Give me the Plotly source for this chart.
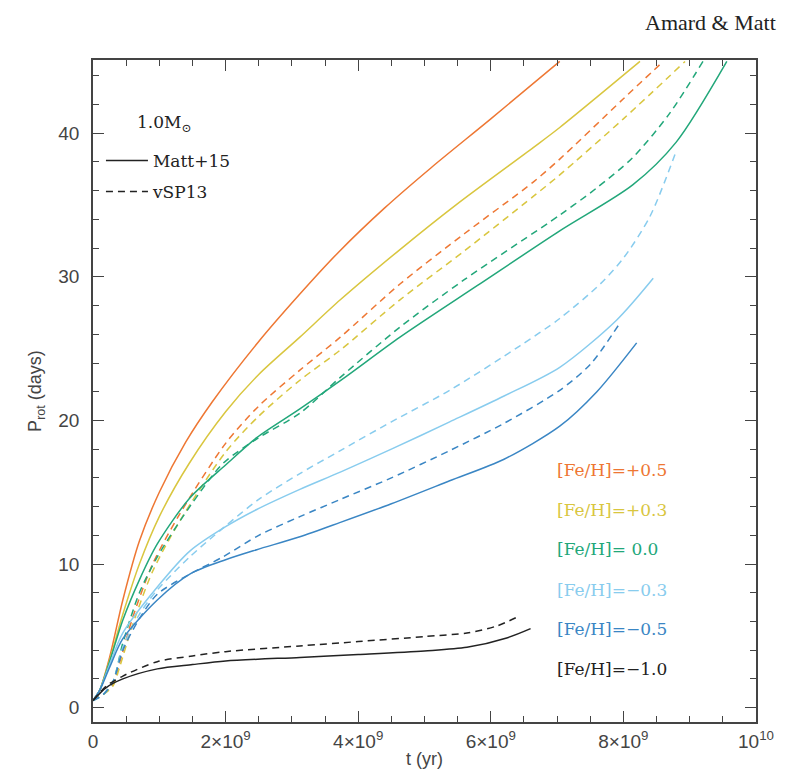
import plotly.graph_objects as go

# ---------------- data (t in units of 1e9 yr, P_rot in days) ----------------
feh_labels = ["[Fe/H]=+0.5", "[Fe/H]=+0.3", "[Fe/H]= 0.0",
              "[Fe/H]=−0.3", "[Fe/H]=−0.5", "[Fe/H]=−1.0"]
colors = ["#EE7733", "#D9C63F", "#22A77A", "#88CCEE", "#3A86C4", "#222222"]
model_names = ["Matt+15", "vSP13"]
mass_label = "1.0M<sub>⊙</sub>"

# Matt+15 (solid)
t_matt_p05 = [0, 0.1, 0.25, 0.45, 0.7, 1.0, 1.4, 1.8, 2.5, 3.1, 3.7, 4.4, 5.1, 6.0, 7.04]
p_matt_p05 = [0.5, 1.2, 3.5, 7.5, 11.6, 15.0, 18.5, 21.3, 25.5, 28.7, 31.7, 34.8, 37.6, 41.0, 45.0]
t_matt_p03 = [0, 0.1, 0.25, 0.45, 0.7, 1.0, 1.45, 2.0, 2.5, 3.12, 3.73, 4.63, 5.5, 6.64, 7.04, 8.25]
p_matt_p03 = [0.5, 1.2, 3.3, 6.5, 10.0, 13.3, 17.0, 20.6, 23.2, 25.8, 28.4, 31.9, 35.1, 39.0, 40.4, 45.0]
t_matt_000 = [0, 0.1, 0.25, 0.45, 0.7, 0.97, 1.46, 2.0, 2.47, 3.12, 3.8, 4.63, 5.8, 7.04, 8.14, 8.8, 9.56]
p_matt_000 = [0.5, 1.2, 3.2, 6.1, 8.9, 11.4, 14.6, 16.9, 18.8, 20.8, 23.0, 25.8, 29.4, 33.2, 36.4, 39.4, 45.0]
t_matt_m03 = [0, 0.1, 0.25, 0.45, 0.97, 1.46, 2.0, 2.47, 3.12, 3.73, 4.5, 5.38, 6.2, 7.04, 7.9, 8.45]
p_matt_m03 = [0.5, 1.2, 3.0, 5.2, 8.4, 10.9, 12.6, 13.8, 15.2, 16.4, 18.0, 19.9, 21.7, 23.7, 27.0, 29.9]
t_matt_m05 = [0, 0.1, 0.25, 0.45, 0.97, 1.46, 2.0, 2.47, 3.12, 3.73, 4.5, 5.38, 6.2, 7.04, 7.6, 8.2]
p_matt_m05 = [0.5, 1.2, 2.8, 4.8, 7.5, 9.3, 10.3, 11.0, 11.9, 12.9, 14.2, 15.8, 17.3, 19.6, 22.0, 25.4]
t_matt_m10 = [0, 0.2, 0.45, 0.97, 1.5, 2.0, 3.12, 4.0, 5.0, 5.64, 6.24, 6.6]
p_matt_m10 = [0.5, 1.4, 2.0, 2.7, 3.0, 3.25, 3.5, 3.7, 3.95, 4.2, 4.85, 5.5]

# vSP13 (dashed)
t_vsp_p05 = [0, 0.15, 0.3, 0.4, 0.6, 0.9, 1.31, 2.0, 2.5, 3.12, 3.73, 4.63, 5.6, 6.64, 7.04, 8.0, 8.6]
p_vsp_p05 = [0.5, 0.9, 1.6, 3.1, 6.3, 10.0, 13.5, 18.4, 21.0, 23.5, 25.8, 29.5, 33.0, 36.6, 38.2, 42.4, 45.0]
t_vsp_p03 = [0, 0.15, 0.3, 0.4, 0.6, 0.9, 1.31, 2.0, 2.5, 3.12, 3.73, 4.63, 5.6, 6.64, 7.04, 8.0, 8.93]
p_vsp_p03 = [0.5, 0.9, 1.5, 2.8, 5.8, 9.5, 13.0, 17.8, 20.3, 22.8, 24.9, 28.4, 31.8, 35.6, 37.1, 41.0, 45.0]
t_vsp_000 = [0, 0.15, 0.3, 0.45, 0.7, 0.97, 1.46, 1.96, 2.5, 3.12, 3.73, 4.63, 5.6, 7.04, 7.6, 8.14, 8.7, 9.2]
p_vsp_000 = [0.5, 0.9, 1.8, 4.5, 8.0, 10.5, 14.0, 17.0, 18.8, 20.5, 23.0, 26.5, 29.8, 34.3, 36.2, 38.3, 41.4, 45.0]
t_vsp_m03 = [0, 0.15, 0.3, 0.45, 0.7, 0.97, 1.46, 1.96, 2.5, 3.12, 3.73, 4.5, 5.38, 6.44, 7.04, 7.65, 8.0, 8.4, 8.8]
p_vsp_m03 = [0.5, 0.9, 1.8, 4.2, 6.5, 8.2, 10.5, 12.5, 14.5, 16.3, 17.9, 19.9, 22.1, 25.2, 27.1, 29.5, 31.3, 34.2, 38.8]
t_vsp_m05 = [0, 0.15, 0.3, 0.45, 0.7, 0.97, 1.46, 1.96, 2.5, 3.12, 3.73, 4.5, 5.38, 6.2, 7.04, 7.5, 7.95]
p_vsp_m05 = [0.5, 0.9, 1.8, 4.0, 6.2, 7.9, 9.3, 10.5, 12.0, 13.3, 14.5, 16.0, 17.9, 19.8, 22.1, 23.9, 26.8]
t_vsp_m10 = [0, 0.2, 0.45, 0.97, 1.5, 2.0, 3.12, 4.0, 5.0, 5.64, 6.1, 6.44]
p_vsp_m10 = [0.5, 1.5, 2.2, 3.2, 3.6, 3.9, 4.3, 4.6, 4.95, 5.2, 5.7, 6.4]

matt_t = [t_matt_p05, t_matt_p03, t_matt_000, t_matt_m03, t_matt_m05, t_matt_m10]
matt_p = [p_matt_p05, p_matt_p03, p_matt_000, p_matt_m03, p_matt_m05, p_matt_m10]
vsp_t = [t_vsp_p05, t_vsp_p03, t_vsp_000, t_vsp_m03, t_vsp_m05, t_vsp_m10]
vsp_p = [p_vsp_p05, p_vsp_p03, p_vsp_000, p_vsp_m03, p_vsp_m05, p_vsp_m10]

x_tickvals = [0, 2, 4, 6, 8, 10]
x_ticktext = ["0", "2×10<sup>9</sup>", "4×10<sup>9</sup>", "6×10<sup>9</sup>",
              "8×10<sup>9</sup>", "10<sup>10</sup>"]
y_tickvals = [0, 10, 20, 30, 40]

# ---------------- figure ----------------
fig = go.Figure()
AX = "#444444"
DASH = "7px,5px"
LW = 1.5
SM = 0.8

for i in range(len(feh_labels)):
    fig.add_trace(go.Scatter(x=vsp_t[i], y=vsp_p[i], mode="lines",
                             line=dict(color=colors[i], width=LW, dash=DASH,
                                       shape="spline", smoothing=SM),
                             showlegend=False, hoverinfo="skip"))
    fig.add_trace(go.Scatter(x=matt_t[i], y=matt_p[i], mode="lines",
                             line=dict(color=colors[i], width=LW,
                                       shape="spline", smoothing=SM),
                             showlegend=False, hoverinfo="skip"))

# legend keys (model types), each in its own legend box
fig.add_trace(go.Scatter(x=[None], y=[None], mode="lines", name=model_names[0],
                         line=dict(color="#222222", width=LW), legend="legend"))
fig.add_trace(go.Scatter(x=[None], y=[None], mode="lines", name=model_names[1],
                         line=dict(color="#222222", width=LW, dash=DASH), legend="legend2"))
# carrier for mirrored axes
fig.add_trace(go.Scatter(x=[None], y=[None], xaxis="x2", yaxis="y2",
                         showlegend=False, hoverinfo="skip"))

tickfont = dict(family="Liberation Sans, Arial, sans-serif", size=19, color=AX)
titlefont = dict(family="Liberation Sans, Arial, sans-serif", size=18, color=AX)
common_axis = dict(showline=True, linecolor=AX, linewidth=1.6, ticks="inside",
                   tickcolor=AX, tickwidth=1.3, showgrid=False, zeroline=False)
minor_x = dict(dtick=0.5, ticklen=6, ticks="inside", tickcolor=AX, tickwidth=1.2)
minor_y = dict(dtick=2, ticklen=6, ticks="inside", tickcolor=AX, tickwidth=1.2)
legfont = dict(family="DejaVu Serif", size=17, color="#222222")

fig.update_layout(
    width=786, height=782,
    margin=dict(l=93, r=30, t=60, b=60),
    paper_bgcolor="white", plot_bgcolor="white",
    xaxis=dict(range=[0, 10], tickvals=x_tickvals, ticktext=x_ticktext,
               ticklen=11, tickfont=tickfont, ticklabelstandoff=1,
               minor=minor_x,
               title=dict(text="t (yr)", font=titlefont, standoff=2),
               **common_axis),
    yaxis=dict(range=[-1.0, 45.1], tickvals=y_tickvals, ticklen=11,
               tickfont=tickfont, ticklabelstandoff=8,
               minor=minor_y,
               title=dict(text="P<sub>rot</sub> (days)", font=titlefont, standoff=12),
               **common_axis),
    xaxis2=dict(range=[0, 10], overlaying="x", side="top", anchor="y2",
                tickvals=x_tickvals, ticklen=11, showticklabels=False,
                minor=minor_x, **common_axis),
    yaxis2=dict(range=[-1.0, 45.1], overlaying="y", side="right", anchor="x2",
                tickvals=y_tickvals, ticklen=11, showticklabels=False,
                minor=minor_y, **common_axis),
    showlegend=True,
    legend=dict(x=0.012, y=0.8474, xanchor="left", yanchor="middle",
                bgcolor="rgba(0,0,0,0)", font=legfont, itemwidth=42),
    legend2=dict(x=0.012, y=0.8006, xanchor="left", yanchor="middle",
                 bgcolor="rgba(0,0,0,0)", font=legfont, itemwidth=42),
)

fig.add_annotation(x=0.063, y=0.9048, xref="paper", yref="paper",
                   xanchor="left", yanchor="middle", showarrow=False,
                   text=mass_label, font=legfont)

# [Fe/H] labels
label_y = [0.381, 0.320, 0.261, 0.200, 0.140, 0.080]
for i, lab in enumerate(feh_labels):
    fig.add_annotation(x=0.697, y=label_y[i], xref="paper", yref="paper",
                       xanchor="left", yanchor="middle", showarrow=False,
                       text=lab,
                       font=dict(family="DejaVu Serif", size=17, color=colors[i]))

fig.add_annotation(x=1.033, y=1.057, xref="paper", yref="paper",
                   xanchor="right", yanchor="middle", showarrow=False,
                   text="Amard &amp; Matt",
                   font=dict(family="Liberation Serif, Times New Roman, serif",
                             size=22, color="#222222"))

fig.write_html("out.html")
